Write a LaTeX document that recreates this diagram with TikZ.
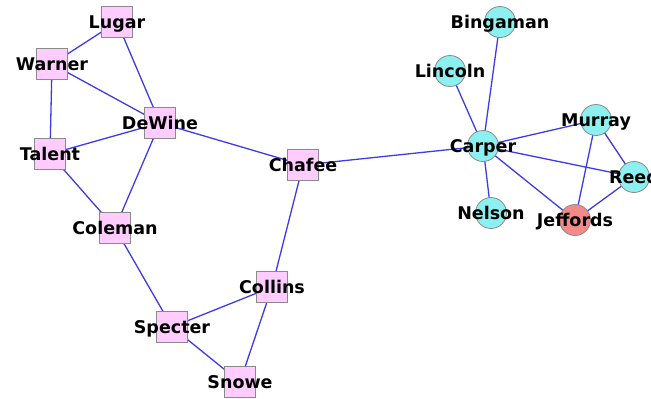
\documentclass[tikz,border=0pt]{standalone}
\usepackage{fontspec}
\setmainfont{DejaVu Sans}
\usetikzlibrary{backgrounds}
\definecolor{sqfill}{HTML}{FFCCFF}
\definecolor{cifill}{HTML}{8CF0F0}
\definecolor{jefill}{HTML}{F28A88}
\definecolor{bordergray}{HTML}{8A8A8A}
\definecolor{edgeblue}{HTML}{3C3CE6}
\tikzset{
  lab/.style={font=\fontsize{17.5}{20}\selectfont\bfseries, text=black, inner sep=0pt, text height=12.8pt, text depth=0pt},
  rep/.style={draw=bordergray, line width=0.8pt, fill=sqfill, rectangle, minimum size=31pt, inner sep=0pt},
  dem/.style={draw=bordergray, line width=0.8pt, fill=cifill, circle, minimum size=31pt, inner sep=0pt},
  ind/.style={dem, fill=jefill},
  edge/.style={draw=edgeblue, line width=1.3pt}
}
\begin{document}
\begin{tikzpicture}[x=1pt,y=-1pt]
\useasboundingbox (0,0) rectangle (651,399);
\node[rep, label={[lab]center:Lugar}] (lugar) at (117,22) {};
\node[rep, label={[lab]center:Warner}] (warner) at (52,64) {};
\node[rep, label={[lab]center:DeWine}] (dewine) at (160,123) {};
\node[rep, label={[lab]center:Talent}] (talent) at (50,154) {};
\node[rep, label={[lab]center:Coleman}] (coleman) at (115,228) {};
\node[rep, label={[lab]center:Chafee}] (chafee) at (303,165) {};
\node[rep, label={[lab]center:Collins}] (collins) at (272,287) {};
\node[rep, label={[lab]center:Specter}] (specter) at (172,327) {};
\node[rep, label={[lab]center:Snowe}] (snowe) at (240,382) {};
\node[dem, label={[lab]center:Bingaman}] (bingaman) at (500,22) {};
\node[dem, label={[lab]center:Lincoln}] (lincoln) at (450,71) {};
\node[dem, label={[lab]center:Murray}] (murray) at (596,120) {};
\node[dem, label={[lab]center:Carper}] (carper) at (483,146) {};
\node[dem, label={[lab]center:Reed}] (reed) at (634,177) {};
\node[dem, label={[lab]center:Nelson}] (nelson) at (491,213) {};
\node[ind, label={[lab]center:Jeffords}] (jeffords) at (575,220) {};
\begin{scope}[on background layer]
\draw[edge] (lugar.center) -- (warner.center);
\draw[edge] (lugar.center) -- (dewine.center);
\draw[edge] (warner.center) -- (dewine.center);
\draw[edge] (warner.center) -- (talent.center);
\draw[edge] (talent.center) -- (dewine.center);
\draw[edge] (talent.center) -- (coleman.center);
\draw[edge] (dewine.center) -- (coleman.center);
\draw[edge] (dewine.center) -- (chafee.center);
\draw[edge] (coleman.center) -- (specter.center);
\draw[edge] (specter.center) -- (collins.center);
\draw[edge] (specter.center) -- (snowe.center);
\draw[edge] (collins.center) -- (snowe.center);
\draw[edge] (collins.center) -- (chafee.center);
\draw[edge] (chafee.center) -- (carper.center);
\draw[edge] (carper.center) -- (bingaman.center);
\draw[edge] (carper.center) -- (lincoln.center);
\draw[edge] (carper.center) -- (murray.center);
\draw[edge] (carper.center) -- (reed.center);
\draw[edge] (carper.center) -- (nelson.center);
\draw[edge] (carper.center) -- (jeffords.center);
\draw[edge] (murray.center) -- (reed.center);
\draw[edge] (murray.center) -- (jeffords.center);
\draw[edge] (reed.center) -- (jeffords.center);
\end{scope}
\end{tikzpicture}
\end{document}
